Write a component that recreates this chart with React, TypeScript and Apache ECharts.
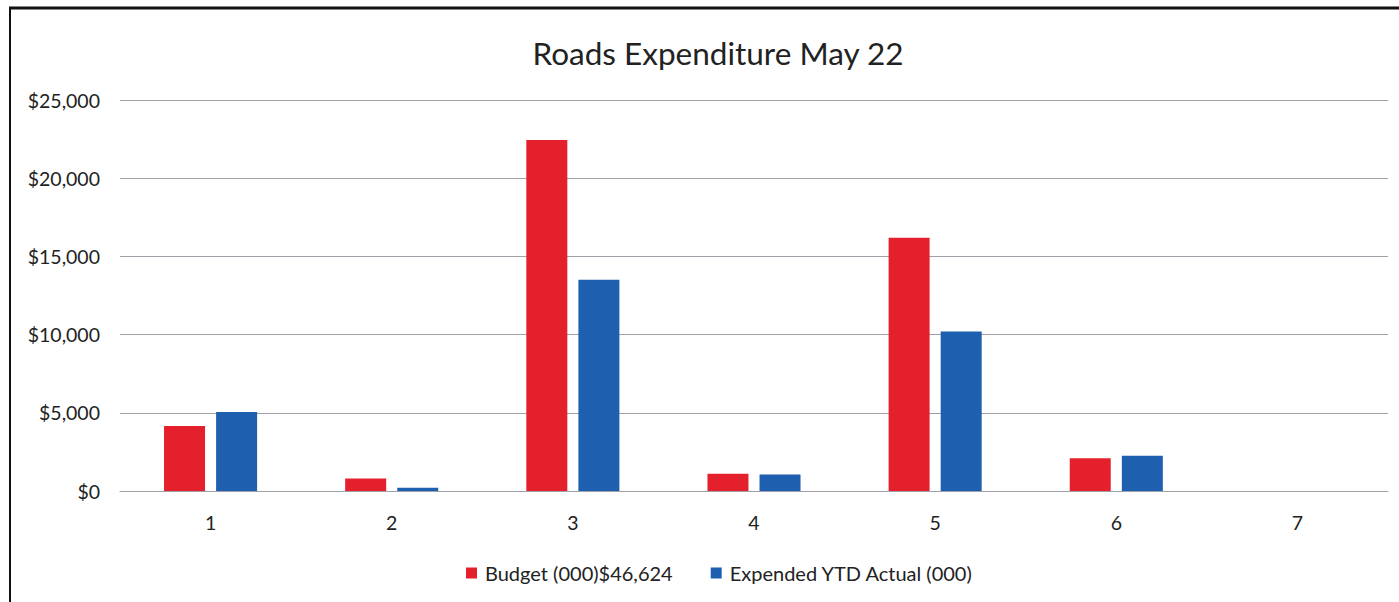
import React, { useEffect, useRef } from "react";
import * as echarts from "echarts";

const categories = ["1", "2", "3", "4", "5", "6", "7"];
const budget = [4150, 800, 22450, 1100, 16200, 2100, 0];
const expended = [5050, 200, 13500, 1050, 10200, 2250, 0];
const seriesNames = ["Budget (000)$46,624", "Expended YTD Actual (000)"];
const titleText = "Roads Expenditure May 22";

export default function App() {
  const ref = useRef<HTMLDivElement>(null);
  useEffect(() => {
    if (!ref.current) return;
    const chart = echarts.init(ref.current, undefined, { renderer: "svg" });
    const font = "Lato, 'Open Sans', sans-serif";
    chart.setOption({
      animation: false,
      backgroundColor: "#ffffff",
      title: {
        text: titleText,
        left: 713,
        textAlign: "center",
        top: 32,
        textStyle: { fontFamily: font, fontSize: 31.5, fontWeight: "normal", color: "#222" },
      },
      legend: {
        data: seriesNames,
        left: 461,
        top: 558,
        itemWidth: 11,
        itemHeight: 11,
        itemGap: 38,
        icon: "rect",
        textStyle: { fontFamily: font, fontSize: 20, color: "#222", padding: [0, 0, 0, 3] },
      },
      grid: { left: 120, right: 11, top: 100, bottom: 111, containLabel: false },
      xAxis: {
        type: "category",
        data: categories,
        axisLine: { lineStyle: { color: "#a0a0a8", width: 1 } },
        axisTick: { show: false },
        axisLabel: { fontFamily: font, fontSize: 19.5, color: "#222", margin: 21 },
      },
      yAxis: {
        type: "value",
        min: 0,
        max: 25000,
        interval: 5000,
        axisLine: { show: false },
        axisTick: { show: false },
        splitLine: { lineStyle: { color: "#a0a0a8", width: 1 } },
        axisLabel: {
          fontFamily: font,
          fontSize: 19.5,
          color: "#222",
          margin: 20,
          formatter: (v: number) => "$" + v.toLocaleString("en-US"),
        },
      },
      series: [
        {
          name: seriesNames[0],
          type: "bar",
          data: budget,
          barWidth: 41,
          barGap: "27%",
          itemStyle: { color: "#e3202c" },
        },
        {
          name: seriesNames[1],
          type: "bar",
          data: expended,
          barWidth: 41,
          itemStyle: { color: "#1f5fb0" },
        },
      ],
      graphic: [
        { type: "line", shape: { x1: 9, y1: 8, x2: 1399, y2: 8 }, style: { stroke: "#111", lineWidth: 3 } },
        { type: "line", shape: { x1: 10, y1: 8, x2: 10, y2: 602 }, style: { stroke: "#111", lineWidth: 2 } },
      ],
    });
    return () => chart.dispose();
  }, []);
  return (
    <div
      ref={ref}
      style={{ position: "absolute", left: 0, top: 0, width: 1399, height: 602 }}
    />
  );
}
